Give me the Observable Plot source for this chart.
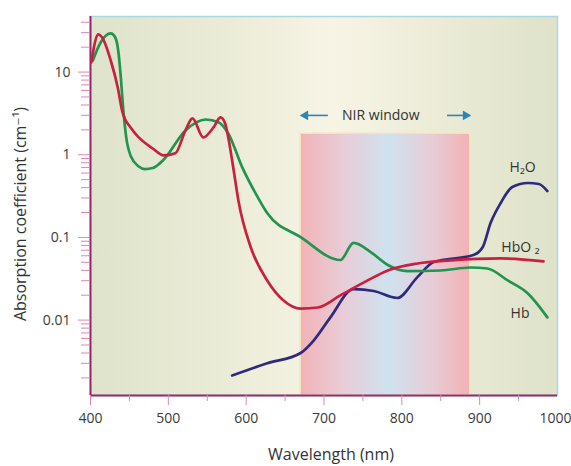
<!DOCTYPE html>
<html>
<head>
<meta charset="utf-8">
<script src="https://cdn.jsdelivr.net/npm/d3@7"></script>
<script src="https://cdn.jsdelivr.net/npm/@observablehq/plot@0.6"></script>
<style>
  html, body { margin: 0; padding: 0; background: #ffffff; }
  #chart { width: 571px; height: 466px; }
</style>
</head>
<body>
<div id="chart"></div>
<script>
// ---- data ----
const hbo2Wavelength = [401, 410, 415, 426, 435, 441, 452, 462, 480, 494, 509, 522, 531, 545, 558, 567, 573, 577, 584, 590, 606, 627, 648, 670, 692, 721, 756, 782, 820, 863, 927, 982];
const hbo2Value = [13.1, 28.5, 26.2, 13.8, 6.5, 3.3, 2.1, 1.62, 1.19, 0.98, 1.04, 1.97, 2.75, 1.62, 2.14, 2.83, 2.39, 1.62, 0.645, 0.28, 0.0756, 0.0302, 0.0173, 0.0138, 0.0142, 0.0199, 0.0302, 0.0399, 0.0484, 0.0527, 0.0557, 0.0513];

const hbWavelength = [403, 413, 426, 432, 436, 439, 442, 446, 452, 462, 470, 480, 493, 522, 548, 565, 577, 595, 615, 627, 670, 721, 738, 760, 782, 807, 850, 888, 910, 936, 962, 987];
const hbValue = [13.8, 22.8, 29.3, 26, 17, 8.5, 3.6, 1.6, 0.95, 0.72, 0.67, 0.69, 0.853, 1.97, 2.67, 2.46, 1.81, 0.703, 0.305, 0.197, 0.101, 0.0533, 0.0857, 0.0665, 0.0464, 0.0392, 0.0398, 0.0433, 0.0421, 0.0302, 0.021, 0.0108];

const h2oWavelength = [582, 627, 670, 687, 708, 738, 764, 794, 820, 841, 892, 904, 914, 927, 942, 962, 976, 987];
const h2oValue = [0.00214, 0.003, 0.004, 0.0057, 0.0107, 0.0237, 0.0225, 0.0185, 0.0331, 0.0504, 0.0612, 0.0765, 0.149, 0.261, 0.407, 0.455, 0.443, 0.364];

const xMajorTicks = [400, 500, 600, 700, 800, 900];
const xLastTick = [1000];
const xMinorTicks = [450, 550, 650, 750, 850, 950];
const yMajorTicks = [10, 1, 0.1, 0.01];
const yMajorLabels = ["10", "1", "0.1", "0.01"];
const yDomain = [0.001225, 47];

const nirRange = [670, 888];
const nirTop = 1.8;
const nirLabel = "NIR window";
const nirLabelPos = {x: 773, y: 2.99};
const nirArrowLeft = {x1: 705, x2: 676, y: 2.99};
const nirArrowRight = {x1: 858, x2: 882, y: 2.99};

const seriesLabels = [
  {text: "H₂O", x: 972, y: 0.70},
  {text: "HbO ₂", x: 977, y: 0.0756},
  {text: "Hb", x: 964, y: 0.012}
];

const xTitle = "Wavelength (nm)";
const yTitle = "Absorption coefficient (cm⁻¹)";

// ---- build tables ----
const hbo2 = hbo2Wavelength.map((w, i) => ({w, v: hbo2Value[i]}));
const hb = hbWavelength.map((w, i) => ({w, v: hbValue[i]}));
const h2o = h2oWavelength.map((w, i) => ({w, v: h2oValue[i]}));

const yMinorTicks = [];
for (let e = -3; e <= 1; e++) {
  for (let m = 1; m <= 9; m++) {
    const v = m * Math.pow(10, e);
    if (v >= yDomain[0] && v <= yDomain[1] && !yMajorTicks.some(t => Math.abs(t - v) / t < 1e-9)) yMinorTicks.push(+v.toPrecision(3));
  }
}

const font = "'Open Sans', 'DejaVu Sans', sans-serif";
const lineW = 2.7;
const tickColor = "#dc86b4";
const labelColor = "#3a3a3a";

const chart = Plot.plot({
  width: 571,
  height: 466,
  marginLeft: 90,
  marginRight: 14,
  marginTop: 16,
  marginBottom: 71,
  style: {fontFamily: font, background: "#ffffff", overflow: "visible"},
  x: {domain: [400, 1000]},
  y: {type: "log", domain: yDomain},
  marks: [
    Plot.frame({fill: "url(#bgGrad)", stroke: "#a9d8e4", strokeWidth: 1.5}),
    Plot.rect([{x1: nirRange[0], x2: nirRange[1], y1: yDomain[0], y2: nirTop}], {
      x1: "x1", x2: "x2", y1: "y1", y2: "y2", fill: "url(#nirGrad)", stroke: "#f3e7bd", strokeWidth: 1.5
    }),
    // axis lines (left & bottom)
    Plot.ruleX([400], {stroke: "#922a6c", strokeWidth: 2}),
    Plot.ruleY([yDomain[0]], {stroke: "#922a6c", strokeWidth: 2}),
    // x axis
    Plot.axisX({ticks: xMajorTicks, tickSize: 10, tickPadding: 8, stroke: tickColor, fill: labelColor, fontSize: 14, label: null, tickFormat: d => String(d)}),
    Plot.axisX({ticks: xLastTick, tickSize: 10, tickPadding: 8, stroke: tickColor, fill: labelColor, fontSize: 14, label: null, tickFormat: d => String(d), textAnchor: "end", dx: 14}),
    Plot.axisX({ticks: xMinorTicks, tickSize: 6, stroke: tickColor, label: null, tickFormat: () => ""}),
    // y axis
    Plot.axisY({ticks: yMajorTicks, tickSize: 12, tickPadding: 8, stroke: tickColor, fill: labelColor, fontSize: 14, label: null, tickFormat: d => yMajorLabels[yMajorTicks.indexOf(d)]}),
    Plot.axisY({ticks: yMinorTicks, tickSize: 9, stroke: tickColor, label: null, tickFormat: () => ""}),
    // curves
    Plot.line(h2o, {x: "w", y: "v", stroke: "#2f2a7e", strokeWidth: lineW, curve: "monotone-x"}),
    Plot.line(hb, {x: "w", y: "v", stroke: "#1f9550", strokeWidth: lineW, curve: "monotone-x"}),
    Plot.line(hbo2, {x: "w", y: "v", stroke: "#c8203e", strokeWidth: lineW, curve: "monotone-x"}),
    // NIR window annotation
    Plot.text([nirLabelPos], {x: "x", y: "y", text: () => nirLabel, fontSize: 14, fill: "#333333"}),
    Plot.link([nirArrowLeft, nirArrowRight], {x1: "x1", x2: "x2", y1: "y", y2: "y", stroke: "#2b86b7", strokeWidth: 1.6}),
    Plot.dot([nirArrowLeft], {x: "x2", y: "y", symbol: "triangle", rotate: -90, r: 3.6, fill: "#2b86b7", stroke: null}),
    Plot.dot([nirArrowRight], {x: "x2", y: "y", symbol: "triangle", rotate: 90, r: 3.6, fill: "#2b86b7", stroke: null}),
    // series labels
    Plot.text(seriesLabels, {x: "x", y: "y", text: "text", fontSize: 14, fill: "#333333", textAnchor: "end"}),
    // titles
    Plot.text([xTitle], {frameAnchor: "bottom", dy: 64, dx: 7, text: d => d, fontSize: 16, fill: "#333333", letterSpacing: "1.2px"}),
    Plot.text([yTitle], {frameAnchor: "left", textAnchor: "middle", dx: -70, dy: 8, rotate: -90, text: d => d, fontSize: 16, fill: "#333333", letterSpacing: "1.2px"})
  ]
});

// gradient definitions
const svg = d3.select(chart);
const defs = svg.insert("defs", ":first-child");
const bg = defs.append("linearGradient").attr("id", "bgGrad").attr("x1", "0%").attr("x2", "100%").attr("y1", "0%").attr("y2", "0%");
[["0%", "#dfe3cb"], ["30%", "#ebecd8"], ["52%", "#f7f4e5"], ["75%", "#ebebd7"], ["100%", "#dee2c9"]].forEach(([o, c]) => bg.append("stop").attr("offset", o).attr("stop-color", c));
const nir = defs.append("linearGradient").attr("id", "nirGrad").attr("x1", "0%").attr("x2", "100%").attr("y1", "0%").attr("y2", "0%");
[["0%", "#f2b2b6"], ["25%", "#e9ccd6"], ["52%", "#cfe2ef"], ["78%", "#e8ccd6"], ["100%", "#f2b1b4"]].forEach(([o, c]) => nir.append("stop").attr("offset", o).attr("stop-color", c));

document.getElementById("chart").appendChild(chart);
</script>
</body>
</html>
